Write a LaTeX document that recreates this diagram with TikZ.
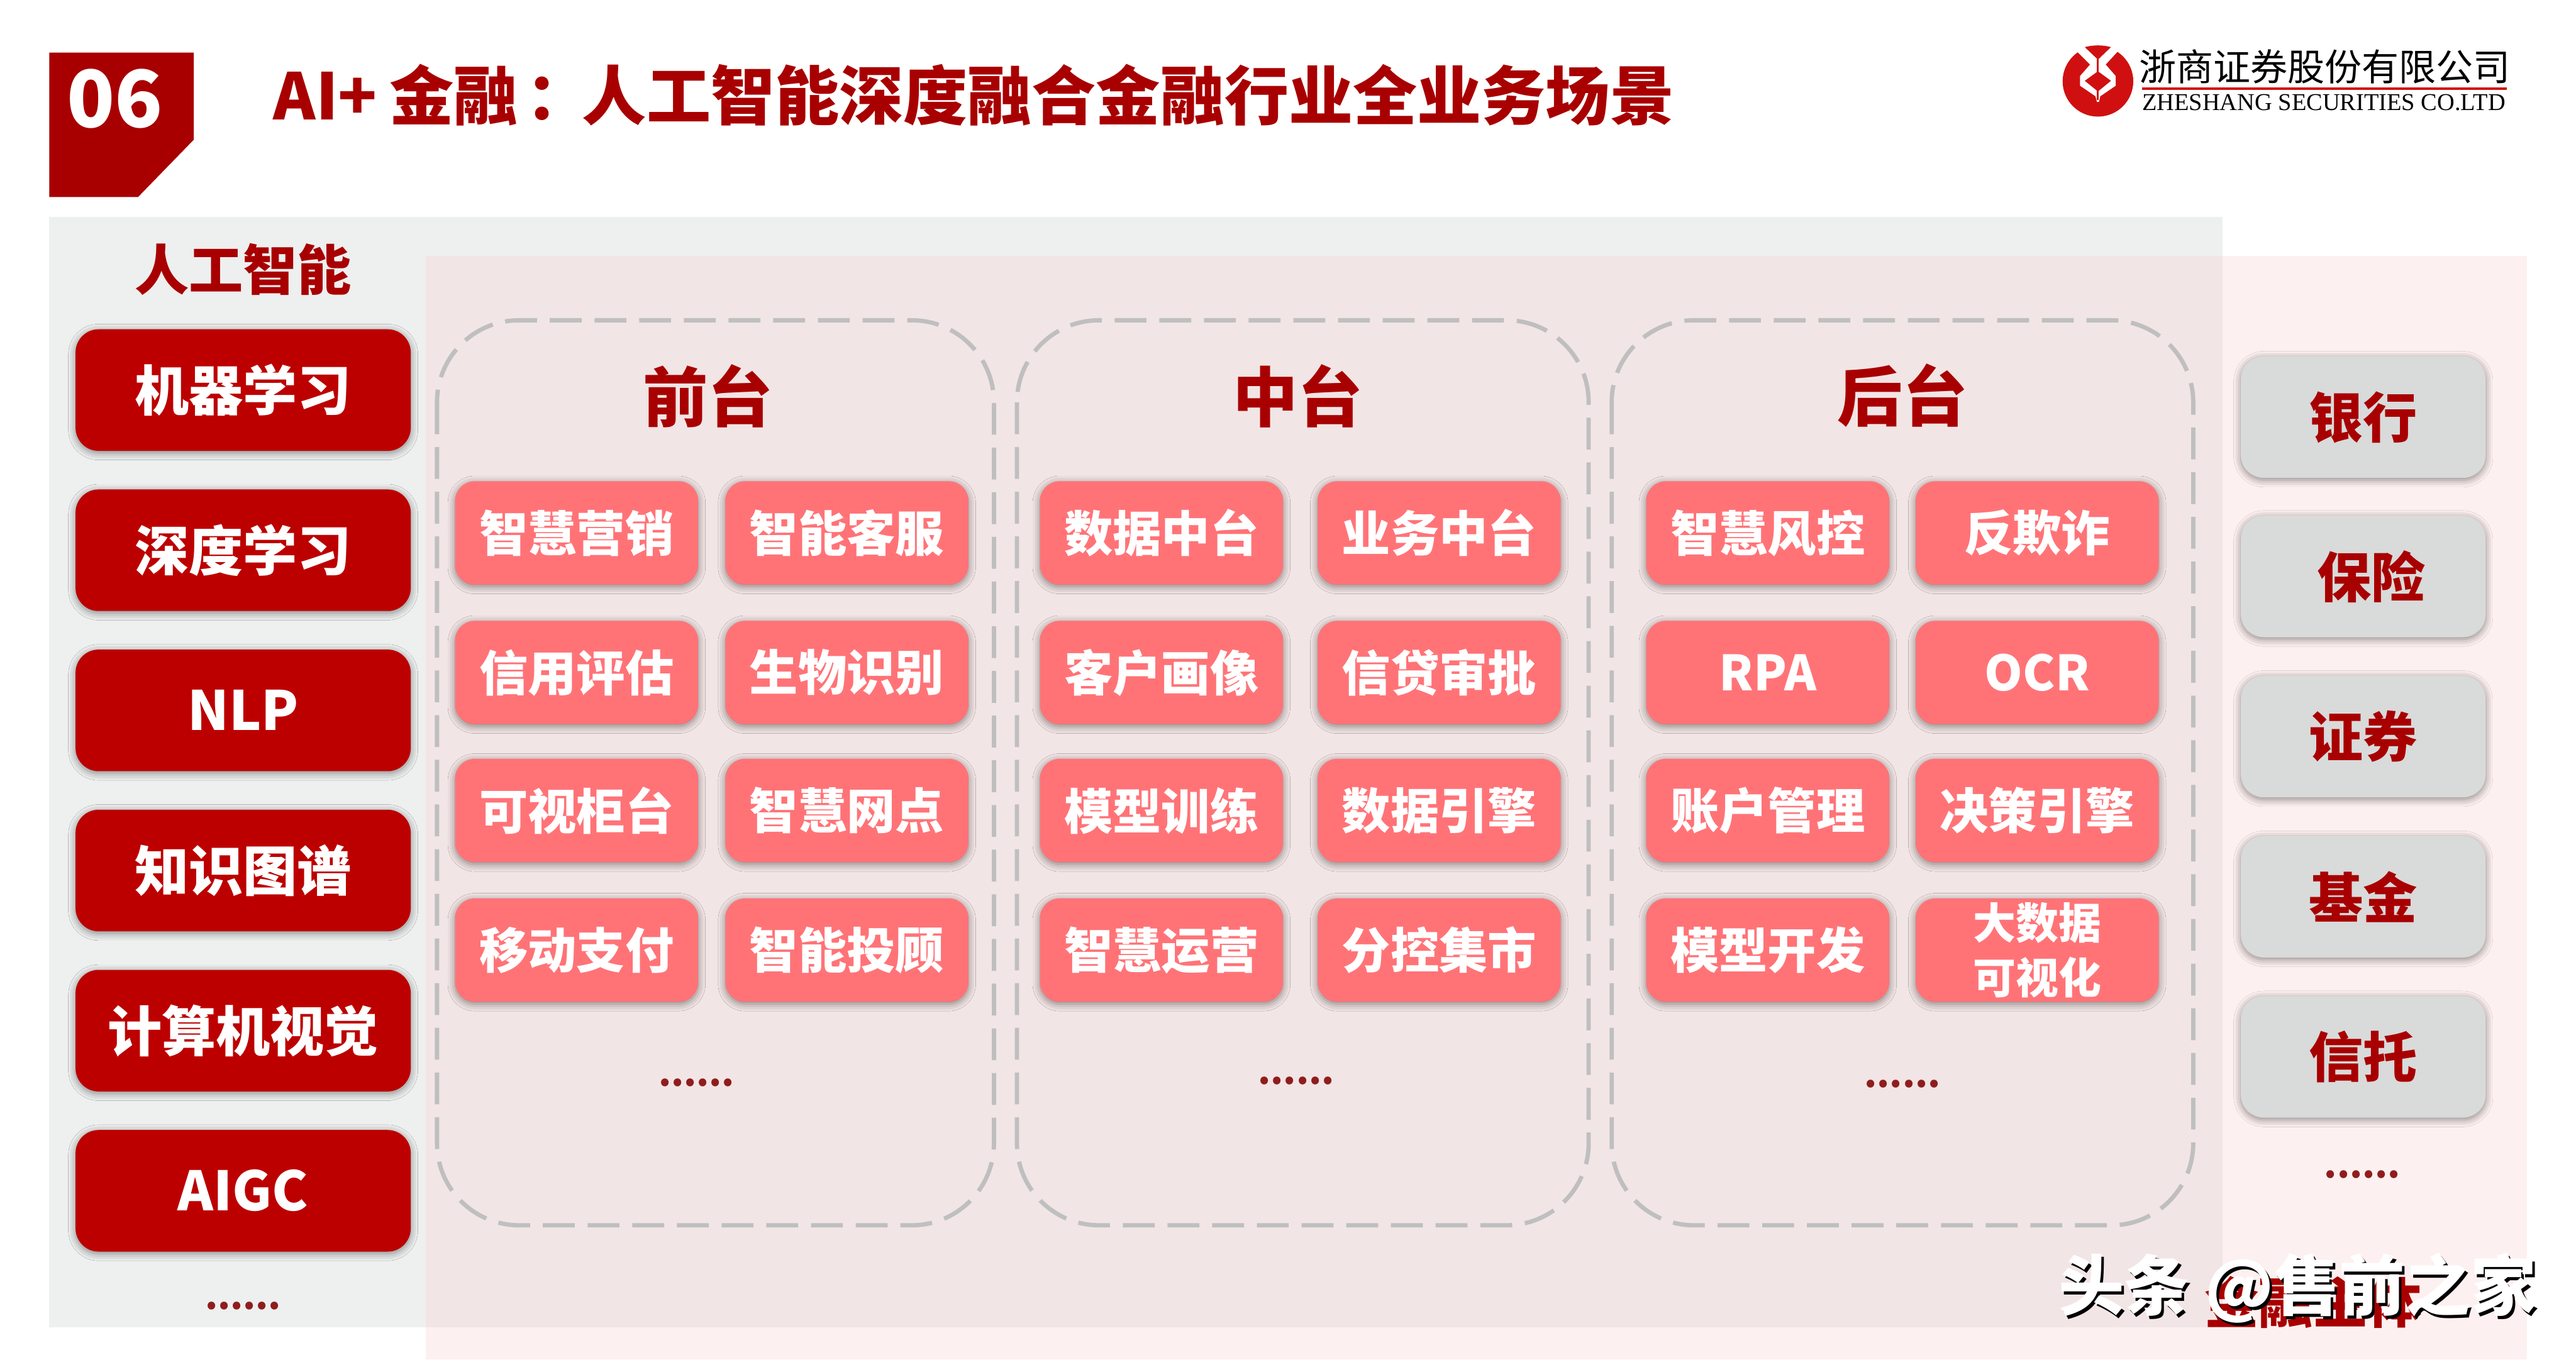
\documentclass[tikz,border=0pt]{standalone}
\usepackage{fontspec}
\setmainfont{Noto Sans CJK SC}
\newfontfamily\logolatin{Liberation Serif}
\usetikzlibrary{shadows.blur}
\definecolor{darkred}{HTML}{A80000}
\definecolor{boxred}{HTML}{BC0000}
\definecolor{boxpink}{HTML}{FF7377}
\definecolor{boxgrey}{HTML}{D9DADA}
\definecolor{panelgrey}{HTML}{EEEFEF}
\definecolor{panelpink}{HTML}{FAD5D5}
\definecolor{logored}{HTML}{D01010}
\definecolor{dotred}{HTML}{8F1D1D}
\newcommand{\fsize}[1]{\fontsize{#1}{#1}\selectfont}
\tikzset{
  soft/.style={blur shadow={shadow xshift=0pt,shadow yshift=-0.6pt,shadow blur radius=2.2pt,shadow opacity=45}},
  aibox/.style={soft,fill=boxred,rounded corners=7pt,minimum width=102pt,minimum height=37pt,
    inner sep=0pt,text=white,font=\fsize{16.5}\bfseries},
  subbox/.style={soft,fill=boxpink,rounded corners=6pt,minimum width=74pt,minimum height=31.5pt,
    inner sep=0pt,text=white,font=\fsize{14.8}\bfseries,align=center},
  finbox/.style={soft,fill=boxgrey,rounded corners=7pt,minimum width=74.5pt,minimum height=37pt,
    inner sep=0pt,text=darkred,font=\fsize{16.5}\bfseries},
  group/.style={draw=black!25,line width=1.3pt,dash pattern=on 9.7pt off 3.9pt,rounded corners=25pt},
  head/.style={text=darkred,font=\fsize{19.8}\bfseries},
  side/.style={text=darkred,font=\fsize{16.5}\bfseries},
  more/.style={text=dotred,font=\fsize{11}\bfseries}
}
\begin{document}
\begin{tikzpicture}[x=0.5pt,y=-0.5pt]
      \useasboundingbox (0,0) rectangle (1568,827.8);
      % panels
      \fill[panelgrey] (30,132) rectangle (1353,808);
      \fill[panelpink,fill opacity=0.35] (259,156) rectangle (1538,827.8);
      % header
      \fill[darkred] (30,32) -- (118,32) -- (118,85) -- (84,120) -- (30,120) -- cycle;
      \node[text=white,font=\fsize{24}\bfseries] (num) at (70,60) {06};
      \node[head,font=\fsize{19.55}\bfseries,anchor=west,inner sep=0pt] (title) at (166,58)
        {AI+\kern3.7pt 金融\kern2.5pt：\kern-2.5pt 人工智能深度融合金融行业全业务场景};
      % logo
      \fill[logored] (1277,49.5) ellipse [x radius=21.5,y radius=21.5];
      \fill[white] (1264.3,31.4) -- (1272.2,39.3) -- (1266.1,46.3) -- (1266.1,52.2) -- (1275.5,58.6) -- (1276.4,62.1)
        -- (1277.6,62.1) -- (1278.4,58.6) -- (1287.8,52.2) -- (1287.8,46.3) -- (1281.7,39.3) -- (1289,31.4)
        -- (1286,27) -- (1268,27) -- cycle;
      \fill[logored] (1269,28.7) .. controls (1274,27.3) and (1280,27.3) .. (1284.9,28.7) -- (1277,36.3) -- cycle;
      \fill[logored] (1269,49.2) -- (1277,43.4) -- (1284.9,49.2) -- (1277,55.7) -- cycle;
      \draw[logored,line width=0.6pt] (1277,36) -- (1277,44);
      \draw[logored,line width=0.6pt] (1277,55) -- (1277,61);
      \node[font=\fsize{11.3},inner sep=0pt] (cn) at (1415,40.5) {浙商证券股份有限公司};
      \fill[logored] (1304,53.2) rectangle (1526,54.8);
      \node[font=\fsize{7.35}\logolatin,inner sep=0pt] (en) at (1414.5,62.5) {ZHESHANG SECURITIES CO.LTD};
      % left column
      \node[side] (ai) at (148,164) {人工智能};
      \node[aibox] (a1) at (148,237.5) {机器学习};
      \node[aibox] (a2) at (148,335) {深度学习};
      \node[aibox] (a3) at (148,432.5) {NLP};
      \node[aibox] (a4) at (148,530) {知识图谱};
      \node[aibox] (a5) at (148,627.5) {计算机视觉};
      \node[aibox] (a6) at (148,725) {AIGC};
      \node[more] (amore) at (148,795) {......};
      % dashed groups
      \draw[group] (266,195) rectangle (605,746);
      \draw[group] (619,195) rectangle (967,746);
      \draw[group] (981,195) rectangle (1335,746);
      \node[head] (front) at (431,241) {前台};
      \node[head] (mid) at (790,241) {中台};
      \node[head] (back) at (1158,241) {后台};
      % front office
      \node[subbox] (f1) at (351,324.5) {智慧营销};
      \node[subbox] (f2) at (515.5,324.5) {智能客服};
      \node[subbox] (f3) at (351,409.5) {信用评估};
      \node[subbox] (f4) at (515.5,409.5) {生物识别};
      \node[subbox] (f5) at (351,493.5) {可视柜台};
      \node[subbox] (f6) at (515.5,493.5) {智慧网点};
      \node[subbox] (f7) at (351,578.5) {移动支付};
      \node[subbox] (f8) at (515.5,578.5) {智能投顾};
      \node[more] (fmore) at (424,659) {......};
      % middle office
      \node[subbox] (m1) at (707,324.5) {数据中台};
      \node[subbox] (m2) at (876,324.5) {业务中台};
      \node[subbox] (m3) at (707,409.5) {客户画像};
      \node[subbox] (m4) at (876,409.5) {信贷审批};
      \node[subbox] (m5) at (707,493.5) {模型训练};
      \node[subbox] (m6) at (876,493.5) {数据引擎};
      \node[subbox] (m7) at (707,578.5) {智慧运营};
      \node[subbox] (m8) at (876,578.5) {分控集市};
      \node[more] (mmore) at (789,658) {......};
      % back office
      \node[subbox] (b1) at (1076,324.5) {智慧风控};
      \node[subbox] (b2) at (1240,324.5) {反欺诈};
      \node[subbox] (b3) at (1076,409.5) {RPA};
      \node[subbox] (b4) at (1240,409.5) {OCR};
      \node[subbox] (b5) at (1076,493.5) {账户管理};
      \node[subbox] (b6) at (1240,493.5) {决策引擎};
      \node[subbox] (b7) at (1076,578.5) {模型开发};
      \node[subbox,font=\fontsize{13}{16.5}\selectfont\bfseries] (b8) at (1240,578.5) {大数据\\可视化};
      \node[more] (bmore) at (1158,660) {......};
      % right column
      \node[finbox] (r1) at (1438.5,254) {银行};
      \node[finbox] (r2) at (1438.5,351) {\hspace{5pt}保险};
      \node[finbox] (r3) at (1438.5,448.5) {证券};
      \node[finbox] (r4) at (1438.5,546) {基金};
      \node[finbox] (r5) at (1438.5,643.5) {信托};
      \node[more] (rmore) at (1438,715) {......};
      \node[side] (fin) at (1408,793) {金融主体};
      % watermark
      \node[font=\fsize{20}\bfseries,text=black] (wmb) at (1400,786) {头条 @售前之家};
      \node[font=\fsize{20}\bfseries,text=white] (wm) at (1398.5,784) {头条 @售前之家};
\end{tikzpicture}
\end{document}
